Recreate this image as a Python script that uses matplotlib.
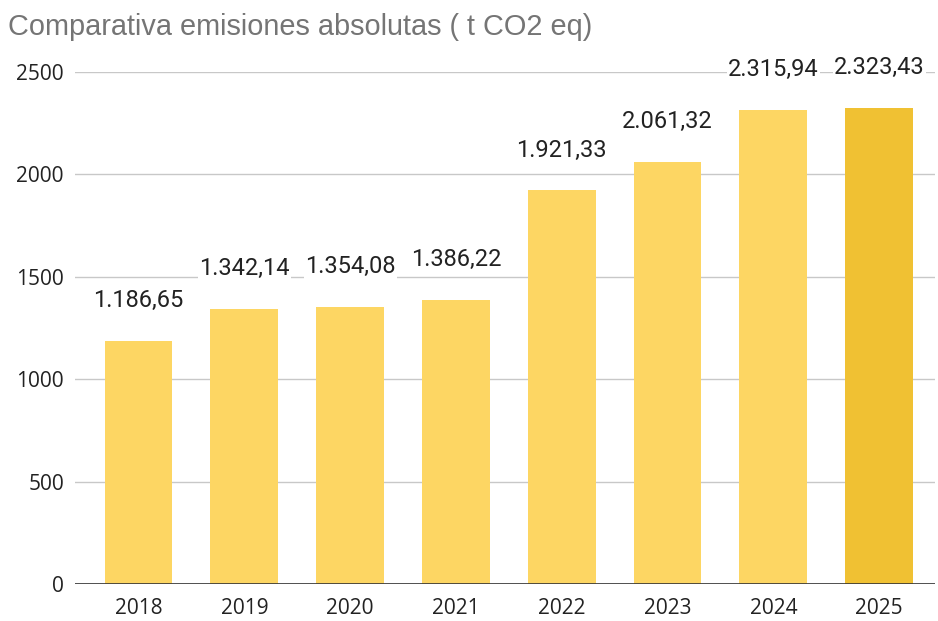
import matplotlib.pyplot as plt
import numpy as np

years = ['2018', '2019', '2020', '2021', '2022', '2023', '2024', '2025']
valores = [1186.65, 1342.14, 1354.08, 1386.22, 1921.33, 2061.32, 2315.94, 2323.43]
etiquetas = ['1.186,65', '1.342,14', '1.354,08', '1.386,22', '1.921,33', '2.061,32', '2.315,94', '2.323,43']
yticks = [0, 500, 1000, 1500, 2000, 2500]

colores = ['#fdd663'] * 7 + ['#f0c133']

fig = plt.figure(figsize=(9.38, 6.21), dpi=100)
ax = fig.add_axes([0.08, 0.0596, 0.917, 0.8245])

x = np.arange(len(years))
ax.bar(x, valores, width=0.64, color=colores, zorder=2)

for xi, v, t in zip(x, valores, etiquetas):
    ax.annotate(t, (xi, v), xytext=(0, 29), textcoords='offset points',
                ha='center', va='center', fontsize=17, family='Roboto',
                color='#222222', clip_on=False, zorder=3,
                bbox=dict(boxstyle='square,pad=0.05', fc='white', ec='none'))

ax.set_xlim(-0.6, 7.53)
ax.set_ylim(0, 2500)
ax.set_yticks(yticks)
ax.set_xticks(x)
ax.set_xticklabels(years)
ax.grid(axis='y', color='#c8c8c8', linewidth=1, zorder=0)
ax.axhline(0, color='#333333', linewidth=1.2, zorder=3)

for s in ax.spines.values():
    s.set_visible(False)
ax.tick_params(length=0, labelsize=15, colors='#222222')
ax.tick_params(axis='y', pad=8)
ax.tick_params(axis='x', pad=10)
for lbl in ax.get_xticklabels() + ax.get_yticklabels():
    lbl.set_family('Open Sans')

fig.text(0.009, 0.957, 'Comparativa emisiones absolutas ( t CO2 eq)', fontsize=20.8,
         color='#757575', family='Liberation Sans', va='center', ha='left')

fig.savefig('out.png', dpi=100)
